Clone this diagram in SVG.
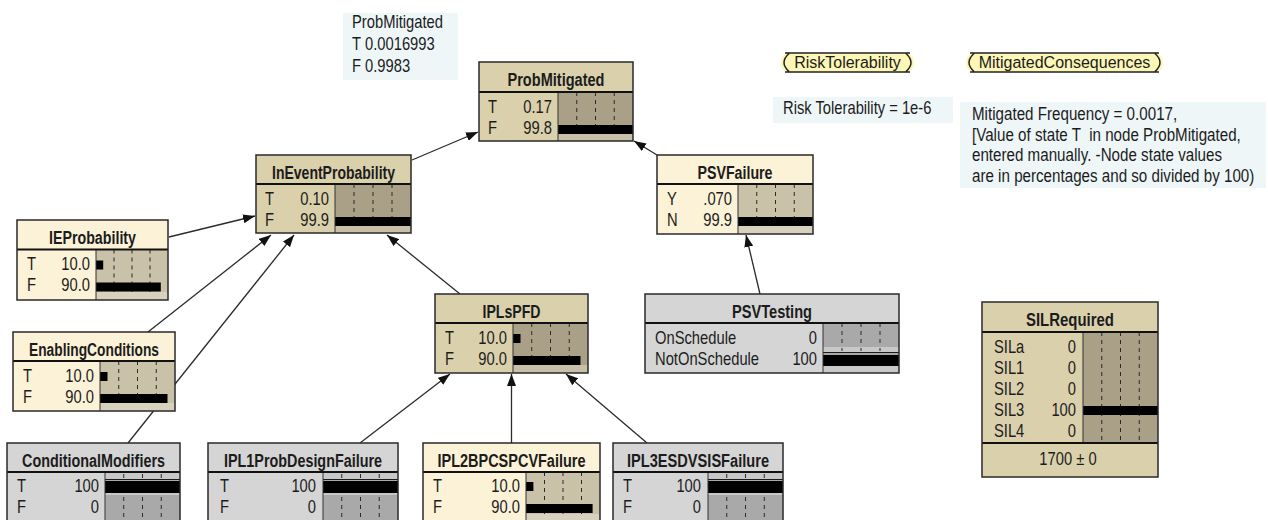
<svg xmlns="http://www.w3.org/2000/svg" width="1268" height="520" viewBox="0 0 1268 520">
<defs>
  <marker id="arrow" markerUnits="userSpaceOnUse" markerWidth="12" markerHeight="9" refX="12" refY="4.5" orient="auto">
    <path d="M0,0 L12,4.5 L0,9 Z" fill="#111"/>
  </marker>
</defs>
<style>
  .lbl{font-family:"Liberation Sans",Arial,sans-serif;font-size:18px;fill:#1c1c1c;transform-box:fill-box;transform-origin:0% 50%;transform:scaleX(0.82)}
  .lbl.val{text-anchor:end;transform-origin:100% 50%}
  .lbl.mid{text-anchor:middle;transform-origin:50% 50%}
  .ttl{font-family:"Liberation Sans",Arial,sans-serif;font-size:17.5px;font-weight:bold;fill:#1c1c1c;text-anchor:middle}
  .pilltxt{font-family:"Liberation Sans",Arial,sans-serif;font-size:16px;fill:#1c1c1c;text-anchor:middle}
  .note{fill:#eef6f8}
  .frame{fill:none;stroke:#2a2a2a;stroke-width:1.5}
  .div{stroke:#111;stroke-width:2;fill:none}
  .sep{stroke:#333;stroke-width:1;fill:none}
  .dot{stroke:#2a2a2a;stroke-width:1;stroke-dasharray:4 4;fill:none}
  .tick{stroke:#2a2a2a;stroke-width:1;fill:none}
  .hl{stroke:#1a1a1a;stroke-width:1;fill:none}
  .bar{fill:#000}
  .tan .box{fill:#dad0ac}.tan .bars{fill:#aaa087}.tan .strip{fill:#c7bfa7}
  .cream .box{fill:#fbf2d7}.cream .bars{fill:#cac1a9}.cream .strip{fill:#d8d1bd}
  .gray .box{fill:#d5d5d5}.gray .bars{fill:#a9a9a9}.gray .strip{fill:#c8c8c8}
  .edge{stroke:#2b2b2b;stroke-width:1.3;fill:none;marker-end:url(#arrow)}
  .pill{fill:#fcf7b6}
  .pillline{fill:none;stroke:#222;stroke-width:1.5}
</style>

<rect width="1268" height="520" fill="#fff"/>

<!-- free-standing notes -->
<g id="note-probmitigated">
  <rect class="note" x="343" y="13" width="115" height="67"/>
  <text class="lbl" x="352" y="28">ProbMitigated</text>
  <text class="lbl" x="352" y="50">T</text><text class="lbl" x="365" y="50">0.0016993</text>
  <text class="lbl" x="352" y="72">F</text><text class="lbl" x="365" y="72">0.9983</text>
</g>
<g id="note-risk">
  <rect class="note" x="773" y="97" width="180" height="26"/>
  <text class="lbl" x="783" y="114">Risk Tolerability = 1e-6</text>
</g>
<g id="note-mitigated">
  <rect class="note" x="960" y="102" width="306" height="86"/>
  <text class="lbl" x="972" y="120.5" style="font-size:18.5px">Mitigated Frequency = 0.0017,</text>
  <text class="lbl" x="972" y="141" style="font-size:18.5px" xml:space="preserve">[Value of state T  in node ProbMitigated,</text>
  <text class="lbl" x="972" y="161.5" style="font-size:18.5px">entered manually. -Node state values</text>
  <text class="lbl" x="972" y="182" style="font-size:18.5px">are in percentages and so divided by 100)</text>
</g>

<!-- name-only nodes -->
<g id="node-RiskTolerability">
  <path class="pill" d="M790,53 H905 Q914,53 914,62.5 Q914,72 905,72 H790 Q781,72 781,62.5 Q781,53 790,53 Z"/>
  <path class="pillline" d="M785,53 H910 M785,72 H910 M789,53.5 Q779,62.5 789,71.5 M906,53.5 Q916,62.5 906,71.5"/>
  <text class="pilltxt" x="847.5" y="68">RiskTolerability</text>
</g>
<g id="node-MitigatedConsequences">
  <path class="pill" d="M975,53 H1154 Q1163,53 1163,62.5 Q1163,72 1154,72 H975 Q966,72 966,62.5 Q966,53 975,53 Z"/>
  <path class="pillline" d="M970,53 H1159 M970,72 H1159 M974,53.5 Q964,62.5 974,71.5 M1155,53.5 Q1165,62.5 1155,71.5"/>
  <text class="pilltxt" x="1064.5" y="68">MitigatedConsequences</text>
</g>

<!-- connectors -->
<g id="connectors">
  <path class="edge" d="M412,160 L478,132"/>
  <path class="edge" d="M657,155 L634,141"/>
  <path class="edge" d="M169,237 L255,216"/>
  <path class="edge" d="M148,332 L271,235"/>
  <path class="edge" d="M128,443 L294,235"/>
  <path class="edge" d="M460,294 L387,235"/>
  <path class="edge" d="M760,294 L746,235"/>
  <path class="edge" d="M360,443 L450,374"/>
  <path class="edge" d="M511.5,443 L511.5,374"/>
  <path class="edge" d="M647,443 L566,374"/>
</g>

<!-- ProbMitigated -->
<g id="node-ProbMitigated" class="tan">
  <rect class="box" x="479" y="62" width="154" height="79"/>
  <rect class="bars" x="558" y="92" width="75" height="49"/>
  <rect class="strip" x="558" y="134" width="75" height="7"/>
  <path class="dot" d="M576.75,92V125M595.5,92V125M614.25,92V125"/>
  <rect class="bar" x="558" y="125" width="74.9" height="9"/>
  <path class="sep" d="M558,92V141"/>
  <path class="div" d="M479,92H633"/>
  <rect class="frame" x="479" y="62" width="154" height="79"/>
  <text class="ttl" x="556" y="85.5" textLength="97" lengthAdjust="spacingAndGlyphs">ProbMitigated</text>
  <text class="lbl" x="488" y="113">T</text><text class="lbl val" x="552" y="113">0.17</text>
  <text class="lbl" x="488" y="134">F</text><text class="lbl val" x="552" y="134">99.8</text>
</g>

<!-- InEventProbability -->
<g id="node-InEventProbability" class="tan">
  <rect class="box" x="256" y="155" width="155" height="78"/>
  <rect class="bars" x="335" y="184" width="76" height="49"/>
  <rect class="strip" x="335" y="226" width="76" height="7"/>
  <path class="dot" d="M354,184V217M373,184V217M392,184V217"/>
  <rect class="bar" x="335" y="217" width="75.9" height="9"/>
  <path class="sep" d="M335,184V233"/>
  <path class="div" d="M256,184H411"/>
  <rect class="frame" x="256" y="155" width="155" height="78"/>
  <text class="ttl" x="333.5" y="178.5" textLength="123" lengthAdjust="spacingAndGlyphs">InEventProbability</text>
  <text class="lbl" x="265" y="205">T</text><text class="lbl val" x="329" y="205">0.10</text>
  <text class="lbl" x="265" y="226">F</text><text class="lbl val" x="329" y="226">99.9</text>
</g>

<!-- IEProbability -->
<g id="node-IEProbability" class="cream">
  <rect class="box" x="17" y="220" width="151" height="80"/>
  <rect class="bars" x="96" y="249.5" width="72" height="50.5"/>
  <rect class="strip" x="96" y="292" width="72" height="8"/>
  <path class="dot" d="M114,249.5V292M132,249.5V292M150,249.5V292"/>
  <rect class="bar" x="96" y="260.5" width="7.2" height="9"/>
  <rect class="bar" x="96" y="282.5" width="64.8" height="9"/>
  <path class="sep" d="M96,249.5V300"/>
  <path class="div" d="M17,249.5H168"/>
  <rect class="frame" x="17" y="220" width="151" height="80"/>
  <text class="ttl" x="92.5" y="243.5" textLength="87" lengthAdjust="spacingAndGlyphs">IEProbability</text>
  <text class="lbl" x="27" y="270.5">T</text><text class="lbl val" x="90" y="270.5">10.0</text>
  <text class="lbl" x="27" y="291.5">F</text><text class="lbl val" x="90" y="291.5">90.0</text>
</g>

<!-- EnablingConditions -->
<g id="node-EnablingConditions" class="cream">
  <rect class="box" x="13" y="332" width="162" height="79"/>
  <rect class="bars" x="100" y="361" width="75" height="50"/>
  <rect class="strip" x="100" y="403" width="75" height="8"/>
  <path class="dot" d="M118.75,361V403M137.5,361V403M156.25,361V403"/>
  <rect class="bar" x="100" y="372" width="7.5" height="9"/>
  <rect class="bar" x="100" y="394" width="67.5" height="9"/>
  <path class="sep" d="M100,361V411"/>
  <path class="div" d="M13,361H175"/>
  <rect class="frame" x="13" y="332" width="162" height="79"/>
  <text class="ttl" x="94" y="355.5" textLength="130" lengthAdjust="spacingAndGlyphs">EnablingConditions</text>
  <text class="lbl" x="23" y="382">T</text><text class="lbl val" x="94" y="382">10.0</text>
  <text class="lbl" x="23" y="403">F</text><text class="lbl val" x="94" y="403">90.0</text>
</g>

<!-- PSVFailure -->
<g id="node-PSVFailure" class="cream">
  <rect class="box" x="657" y="155" width="156" height="79"/>
  <rect class="bars" x="738" y="184" width="75" height="50"/>
  <rect class="strip" x="738" y="226" width="75" height="8"/>
  <path class="dot" d="M756.75,184V217M775.5,184V217M794.25,184V217"/>
  <rect class="bar" x="738" y="217" width="74.9" height="9"/>
  <path class="sep" d="M738,184V234"/>
  <path class="div" d="M657,184H813"/>
  <rect class="frame" x="657" y="155" width="156" height="79"/>
  <text class="ttl" x="735" y="178.5" textLength="75" lengthAdjust="spacingAndGlyphs">PSVFailure</text>
  <text class="lbl" x="667" y="205">Y</text><text class="lbl val" x="732" y="205">.070</text>
  <text class="lbl" x="667" y="226">N</text><text class="lbl val" x="732" y="226">99.9</text>
</g>

<!-- PSVTesting -->
<g id="node-PSVTesting" class="gray">
  <rect class="box" x="645" y="294" width="254" height="79"/>
  <rect class="bars" x="823" y="323" width="76" height="50"/>
  <rect class="strip" x="823" y="347" width="76" height="5"/>
  <rect class="strip" x="823" y="366" width="76" height="7"/>
  <path class="dot" d="M842,323V347M861,323V347M880,323V347"/>
  <path class="tick" d="M842,348V351M861,348V351M880,348V351"/>
  <path class="hl" d="M823,352.5H899"/>
  <rect class="bar" x="823" y="355" width="76" height="11"/>
  <path class="sep" d="M823,323V373"/>
  <path class="div" d="M645,323H899"/>
  <rect class="frame" x="645" y="294" width="254" height="79"/>
  <text class="ttl" x="772" y="317.5" textLength="80" lengthAdjust="spacingAndGlyphs">PSVTesting</text>
  <text class="lbl" x="655" y="344">OnSchedule</text><text class="lbl val" x="817" y="344">0</text>
  <text class="lbl" x="655" y="365">NotOnSchedule</text><text class="lbl val" x="817" y="365">100</text>
</g>

<!-- IPLsPFD -->
<g id="node-IPLsPFD" class="tan">
  <rect class="box" x="435" y="294" width="153" height="79"/>
  <rect class="bars" x="513" y="323" width="75" height="50"/>
  <rect class="strip" x="513" y="365" width="75" height="8"/>
  <path class="dot" d="M531.75,323V365M550.5,323V365M569.25,323V365"/>
  <rect class="bar" x="513" y="334" width="7.5" height="9"/>
  <rect class="bar" x="513" y="356" width="67.5" height="9"/>
  <path class="sep" d="M513,323V373"/>
  <path class="div" d="M435,323H588"/>
  <rect class="frame" x="435" y="294" width="153" height="79"/>
  <text class="ttl" x="511.5" y="317.5" textLength="58" lengthAdjust="spacingAndGlyphs">IPLsPFD</text>
  <text class="lbl" x="445" y="344">T</text><text class="lbl val" x="507" y="344">10.0</text>
  <text class="lbl" x="445" y="365">F</text><text class="lbl val" x="507" y="365">90.0</text>
</g>

<!-- ConditionalModifiers -->
<g id="node-ConditionalModifiers" class="gray">
  <rect class="box" x="7" y="443" width="173" height="90"/>
  <rect class="bars" x="105" y="472" width="75" height="61"/>
  <rect class="strip" x="105" y="472" width="75" height="7"/>
  <path class="tick" d="M123.75,474V478M142.5,474V478M161.25,474V478"/>
  <path class="hl" d="M105,479.5H180"/>
  <rect class="bar" x="105" y="481" width="75" height="12"/>
  <rect class="strip" x="105" y="493" width="75" height="2"/>
  <path class="dot" d="M123.75,497V533M142.5,497V533M161.25,497V533"/>
  <path class="sep" d="M105,472V533"/>
  <path class="div" d="M7,472H180"/>
  <rect class="frame" x="7" y="443" width="173" height="90"/>
  <text class="ttl" x="93.5" y="466.5" textLength="143" lengthAdjust="spacingAndGlyphs">ConditionalModifiers</text>
  <text class="lbl" x="17" y="492">T</text><text class="lbl val" x="99" y="492">100</text>
  <text class="lbl" x="17" y="513">F</text><text class="lbl val" x="99" y="513">0</text>
</g>

<!-- IPL1ProbDesignFailure -->
<g id="node-IPL1ProbDesignFailure" class="gray">
  <rect class="box" x="208" y="443" width="190" height="90"/>
  <rect class="bars" x="323" y="472" width="75" height="61"/>
  <rect class="strip" x="323" y="472" width="75" height="7"/>
  <path class="tick" d="M341.75,474V478M360.5,474V478M379.25,474V478"/>
  <path class="hl" d="M323,479.5H398"/>
  <rect class="bar" x="323" y="481" width="75" height="12"/>
  <rect class="strip" x="323" y="493" width="75" height="2"/>
  <path class="dot" d="M341.75,497V533M360.5,497V533M379.25,497V533"/>
  <path class="sep" d="M323,472V533"/>
  <path class="div" d="M208,472H398"/>
  <rect class="frame" x="208" y="443" width="190" height="90"/>
  <text class="ttl" x="303" y="466.5" textLength="158" lengthAdjust="spacingAndGlyphs">IPL1ProbDesignFailure</text>
  <text class="lbl" x="220" y="492">T</text><text class="lbl val" x="316" y="492">100</text>
  <text class="lbl" x="220" y="513">F</text><text class="lbl val" x="316" y="513">0</text>
</g>

<!-- IPL2BPCSPCVFailure -->
<g id="node-IPL2BPCSPCVFailure" class="cream">
  <rect class="box" x="423" y="443" width="177" height="90"/>
  <rect class="bars" x="526" y="472" width="74" height="61"/>
  <rect class="strip" x="526" y="514" width="74" height="19"/>
  <path class="dot" d="M544.5,472V514M563,472V514M581.5,472V514"/>
  <rect class="bar" x="526" y="482" width="7.4" height="9"/>
  <rect class="bar" x="526" y="504" width="66.6" height="9"/>
  <path class="sep" d="M526,472V533"/>
  <path class="div" d="M423,472H600"/>
  <rect class="frame" x="423" y="443" width="177" height="90"/>
  <text class="ttl" x="511.5" y="466.5" textLength="148" lengthAdjust="spacingAndGlyphs">IPL2BPCSPCVFailure</text>
  <text class="lbl" x="433" y="492">T</text><text class="lbl val" x="520" y="492">10.0</text>
  <text class="lbl" x="433" y="513">F</text><text class="lbl val" x="520" y="513">90.0</text>
</g>

<!-- IPL3ESDVSISFailure -->
<g id="node-IPL3ESDVSISFailure" class="gray">
  <rect class="box" x="613" y="443" width="170" height="90"/>
  <rect class="bars" x="708" y="472" width="75" height="61"/>
  <rect class="strip" x="708" y="472" width="75" height="7"/>
  <path class="tick" d="M726.75,474V478M745.5,474V478M764.25,474V478"/>
  <path class="hl" d="M708,479.5H783"/>
  <rect class="bar" x="708" y="481" width="75" height="12"/>
  <rect class="strip" x="708" y="493" width="75" height="2"/>
  <path class="dot" d="M726.75,497V533M745.5,497V533M764.25,497V533"/>
  <path class="sep" d="M708,472V533"/>
  <path class="div" d="M613,472H783"/>
  <rect class="frame" x="613" y="443" width="170" height="90"/>
  <text class="ttl" x="698" y="466.5" textLength="142" lengthAdjust="spacingAndGlyphs">IPL3ESDVSISFailure</text>
  <text class="lbl" x="623" y="492">T</text><text class="lbl val" x="701" y="492">100</text>
  <text class="lbl" x="623" y="513">F</text><text class="lbl val" x="701" y="513">0</text>
</g>

<!-- SILRequired -->
<g id="node-SILRequired" class="tan">
  <rect class="box" x="982" y="302" width="176" height="175"/>
  <rect class="bars" x="1083" y="332" width="75" height="111"/>
  <path class="dot" d="M1101.75,332V443M1120.5,332V443M1139.25,332V443"/>
  <rect class="bar" x="1083" y="406" width="75" height="9"/>
  <path class="sep" d="M1083,332V443"/>
  <path class="div" d="M982,332H1158M982,443H1158"/>
  <rect class="frame" x="982" y="302" width="176" height="175"/>
  <text class="ttl" x="1070" y="325.5" textLength="88" lengthAdjust="spacingAndGlyphs">SILRequired</text>
  <text class="lbl" x="994" y="353">SILa</text><text class="lbl val" x="1076" y="353">0</text>
  <text class="lbl" x="994" y="374">SIL1</text><text class="lbl val" x="1076" y="374">0</text>
  <text class="lbl" x="994" y="395">SIL2</text><text class="lbl val" x="1076" y="395">0</text>
  <text class="lbl" x="994" y="416">SIL3</text><text class="lbl val" x="1076" y="416">100</text>
  <text class="lbl" x="994" y="437">SIL4</text><text class="lbl val" x="1076" y="437">0</text>
  <text class="lbl mid" x="1068" y="465">1700 ± 0</text>
</g>
</svg>
